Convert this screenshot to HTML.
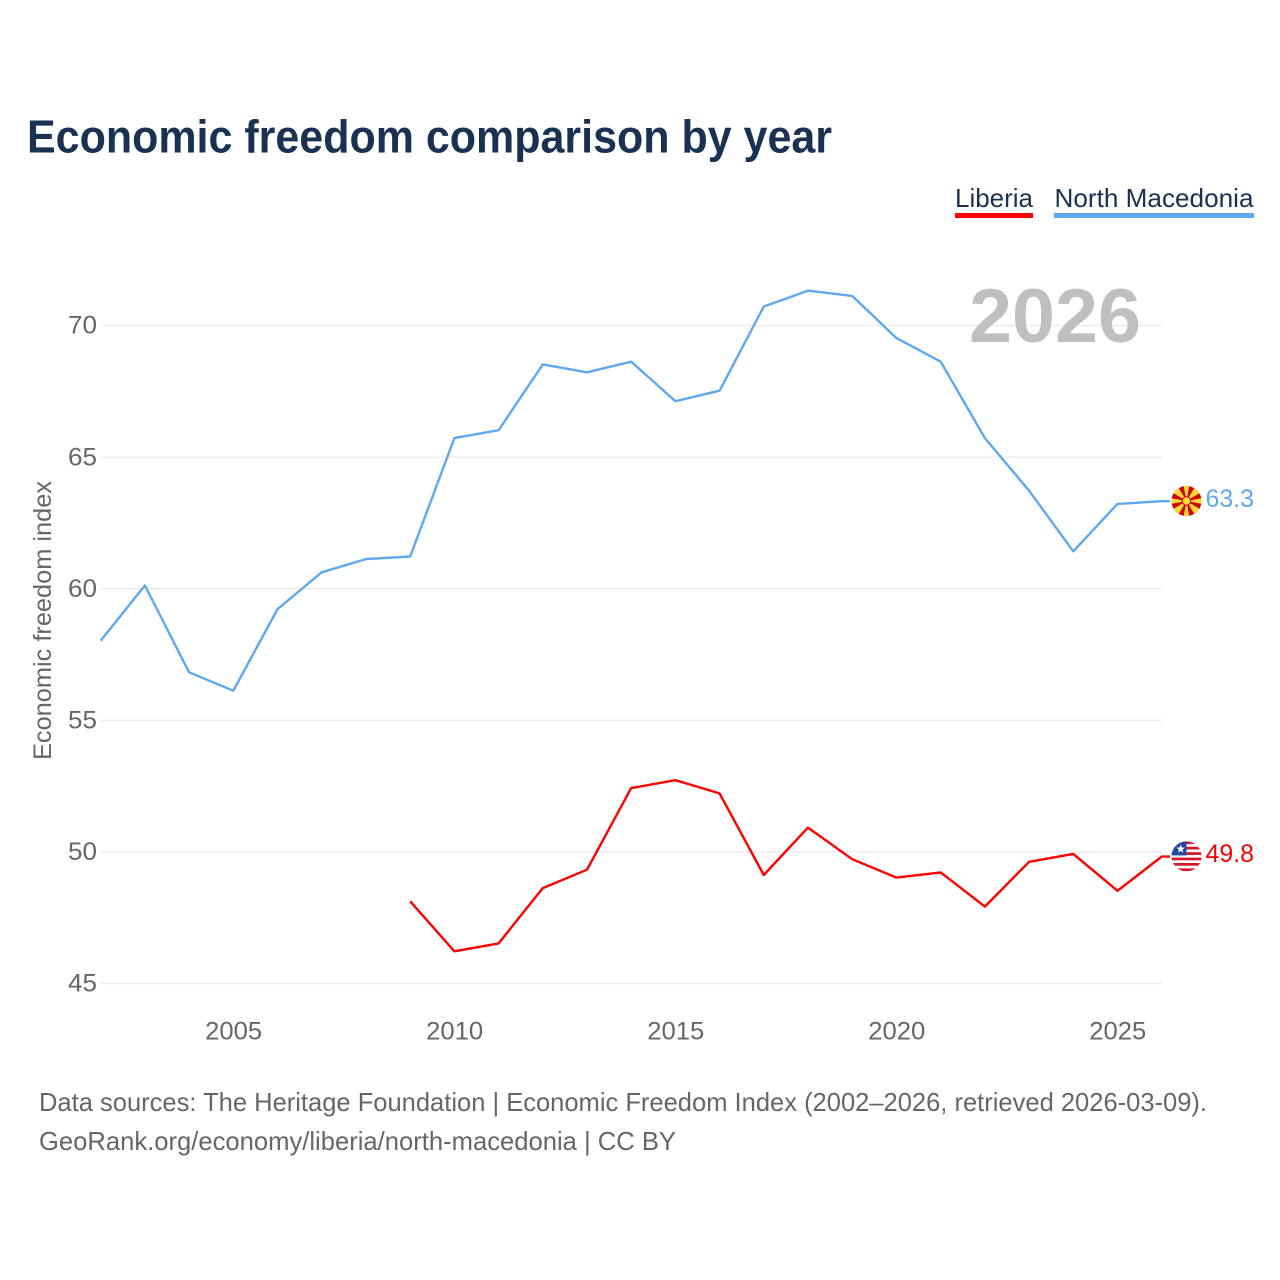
<!DOCTYPE html>
<html lang="en">
<head>
<meta charset="utf-8">
<title>Economic freedom comparison by year</title>
<style>
html,body{margin:0;padding:0;background:#fff;}
svg{display:block;font-family:"Liberation Sans",sans-serif;}
</style>
</head>
<body>
<svg id="chart" xmlns="http://www.w3.org/2000/svg" width="1280" height="1280" viewBox="0 0 1280 1280">
  <defs>
    <clipPath id="flag-clip"><circle cx="0" cy="0" r="15"/></clipPath>
  </defs>
  <rect width="1280" height="1280" fill="#ffffff"/>
  <text x="27" y="152.5" font-size="46" font-weight="700" fill="#1a3151" textLength="805" lengthAdjust="spacingAndGlyphs">Economic freedom comparison by year</text>

  <g>
    <text x="955" y="207" font-size="26" fill="#1a3151" textLength="78" lengthAdjust="spacingAndGlyphs">Liberia</text>
    <rect x="955" y="213" width="78" height="5" fill="#ff0000"/>
  </g>
  <g>
    <text x="1054.5" y="207" font-size="26" fill="#1a3151" textLength="199" lengthAdjust="spacingAndGlyphs">North Macedonia</text>
    <rect x="1054" y="213" width="200" height="5" fill="#5fa8ee"/>
  </g>

  <g id="grid"></g>
  <text x="969" y="342" font-size="76" font-weight="700" fill="#bfbfbf" textLength="172" lengthAdjust="spacingAndGlyphs">2026</text>
  <g id="y-ticks"></g>
  <g id="x-ticks"></g>
  <text transform="translate(51,760) rotate(-90)" x="0" y="0" font-size="25" fill="#666666" textLength="279" lengthAdjust="spacingAndGlyphs">Economic freedom index</text>

  <g id="series"></g>

  <g id="flag-mk">
    <g clip-path="url(#flag-clip)">
      <rect x="-16" y="-16" width="32" height="32" fill="#d20000"/>
      <g fill="#ffd83a">
        <polygon points="-3,-16 3,-16 0,0"/>
        <polygon points="-3,16 3,16 0,0"/>
        <polygon points="-16,-3 -16,3 0,0"/>
        <polygon points="16,-3 16,3 0,0"/>
        <polygon points="-15,-9 -9,-15 0,0"/>
        <polygon points="15,-9 9,-15 0,0"/>
        <polygon points="-15,9 -9,15 0,0"/>
        <polygon points="15,9 9,15 0,0"/>
      </g>
      <circle r="4.8" fill="#d20000"/>
      <circle r="3.8" fill="#ffd83a"/>
    </g>
  </g>
  <g id="flag-lr">
    <g clip-path="url(#flag-clip)">
      <rect x="-16" y="-16" width="32" height="32" fill="#ffffff"/>
      <g fill="#d9142b">
        <rect x="-16" y="-15" width="32" height="2.7"/>
        <rect x="-16" y="-9.6" width="32" height="2.7"/>
        <rect x="-16" y="-4.2" width="32" height="2.7"/>
        <rect x="-16" y="1.2" width="32" height="2.7"/>
        <rect x="-16" y="6.6" width="32" height="2.7"/>
        <rect x="-16" y="12" width="32" height="2.7"/>
      </g>
      <rect x="-16" y="-16" width="16" height="15" fill="#1f4aa0"/>
      <polygon fill="#ffffff" points="-5.8,-11.9 -4.68,-8.94 -1.52,-8.79 -3.99,-6.81 -3.15,-3.76 -5.8,-5.5 -8.45,-3.76 -7.61,-6.81 -10.08,-8.79 -6.92,-8.94"/>
    </g>
  </g>
  <text id="label-mk" x="1205.5" font-size="25" fill="#5fa8ee" textLength="48.5" lengthAdjust="spacingAndGlyphs"></text>
  <text id="label-lr" x="1205.5" font-size="25" fill="#ff0000" textLength="48.5" lengthAdjust="spacingAndGlyphs"></text>

  <text x="39" y="1111" font-size="26" fill="#666666" textLength="1168" lengthAdjust="spacingAndGlyphs">Data sources: The Heritage Foundation | Economic Freedom Index (2002–2026, retrieved 2026-03-09).</text>
  <text x="39" y="1150" font-size="26" fill="#666666" textLength="637" lengthAdjust="spacingAndGlyphs">GeoRank.org/economy/liberia/north-macedonia | CC BY</text>
</svg>
<script>
const years = [2002,2003,2004,2005,2006,2007,2008,2009,2010,2011,2012,2013,2014,2015,2016,2017,2018,2019,2020,2021,2022,2023,2024,2025,2026];
const northMacedonia = [58.0,60.1,56.8,56.1,59.2,60.6,61.1,61.2,65.7,66.0,68.5,68.2,68.6,67.1,67.5,70.7,71.3,71.1,69.5,68.6,65.7,63.7,61.4,63.2,63.3];
const liberia = [null,null,null,null,null,null,null,48.1,46.2,46.5,48.6,49.3,52.4,52.7,52.2,49.1,50.9,49.7,49.0,49.2,47.9,49.6,49.9,48.5,49.8];
const yTicks = [45,50,55,60,65,70];
const xTicks = [2005,2010,2015,2020,2025];

const NS = 'http://www.w3.org/2000/svg';
function xScale(year){ return 101 + (year - 2002) * (1162 - 101) / 24; }
function yScale(v){ return 983.5 - (v - 45) * (983.5 - 325.5) / 25; }
function make(tag, attrs, parent){
  const el = document.createElementNS(NS, tag);
  for (const k in attrs) el.setAttribute(k, attrs[k]);
  parent.appendChild(el);
  return el;
}
const grid = document.getElementById('grid');
const yG = document.getElementById('y-ticks');
const xG = document.getElementById('x-ticks');
const seriesG = document.getElementById('series');

yTicks.forEach(function(t){
  const line = make('line', {x1:101, x2:1162, y1:yScale(t), y2:yScale(t), stroke:'#ebebeb', 'stroke-width':1.3}, grid);
  
  
  const label = make('text', {x:97, y:yScale(t)+8.2, 'text-anchor':'end', 'font-size':25, fill:'#666666', textLength:29, lengthAdjust:'spacingAndGlyphs'}, yG);
  
  
  label.textContent = t;
});
xTicks.forEach(function(t){
  const label = make('text', {x:xScale(t), y:1039.5, 'text-anchor':'middle', 'font-size':25, fill:'#666666', textLength:57, lengthAdjust:'spacingAndGlyphs'}, xG);
  
  
  label.textContent = t;
});
function drawSeries(values, color, name){
  const pts = [];
  values.forEach(function(v, i){
    if (v !== null) pts.push((xScale(years[i]) - 0.3).toFixed(1) + ',' + (yScale(v) - 0.6).toFixed(1));
  });
  const last = values[values.length - 1];
  pts.push('1170,' + (yScale(last) - 0.6).toFixed(1));
  const line = make('polyline', {points:pts.join(' '), fill:'none', stroke:color, 'stroke-width':2.4, 'stroke-linejoin':'round'}, seriesG);
  
  
}
drawSeries(liberia, '#ff0000', 'liberia');
drawSeries(northMacedonia, '#5fa8ee', 'north-macedonia');

function placeEnd(values, flagId, labelId){
  const last = values[values.length - 1];
  const y = yScale(last);
  document.getElementById(flagId).setAttribute('transform', 'translate(1186.5,' + (y - 0.8).toFixed(1) + ')');
  const label = document.getElementById(labelId);
  label.setAttribute('y', (y + 5).toFixed(1));
  label.textContent = last.toFixed(1);
}
placeEnd(northMacedonia, 'flag-mk', 'label-mk');
placeEnd(liberia, 'flag-lr', 'label-lr');
</script>
</body>
</html>
